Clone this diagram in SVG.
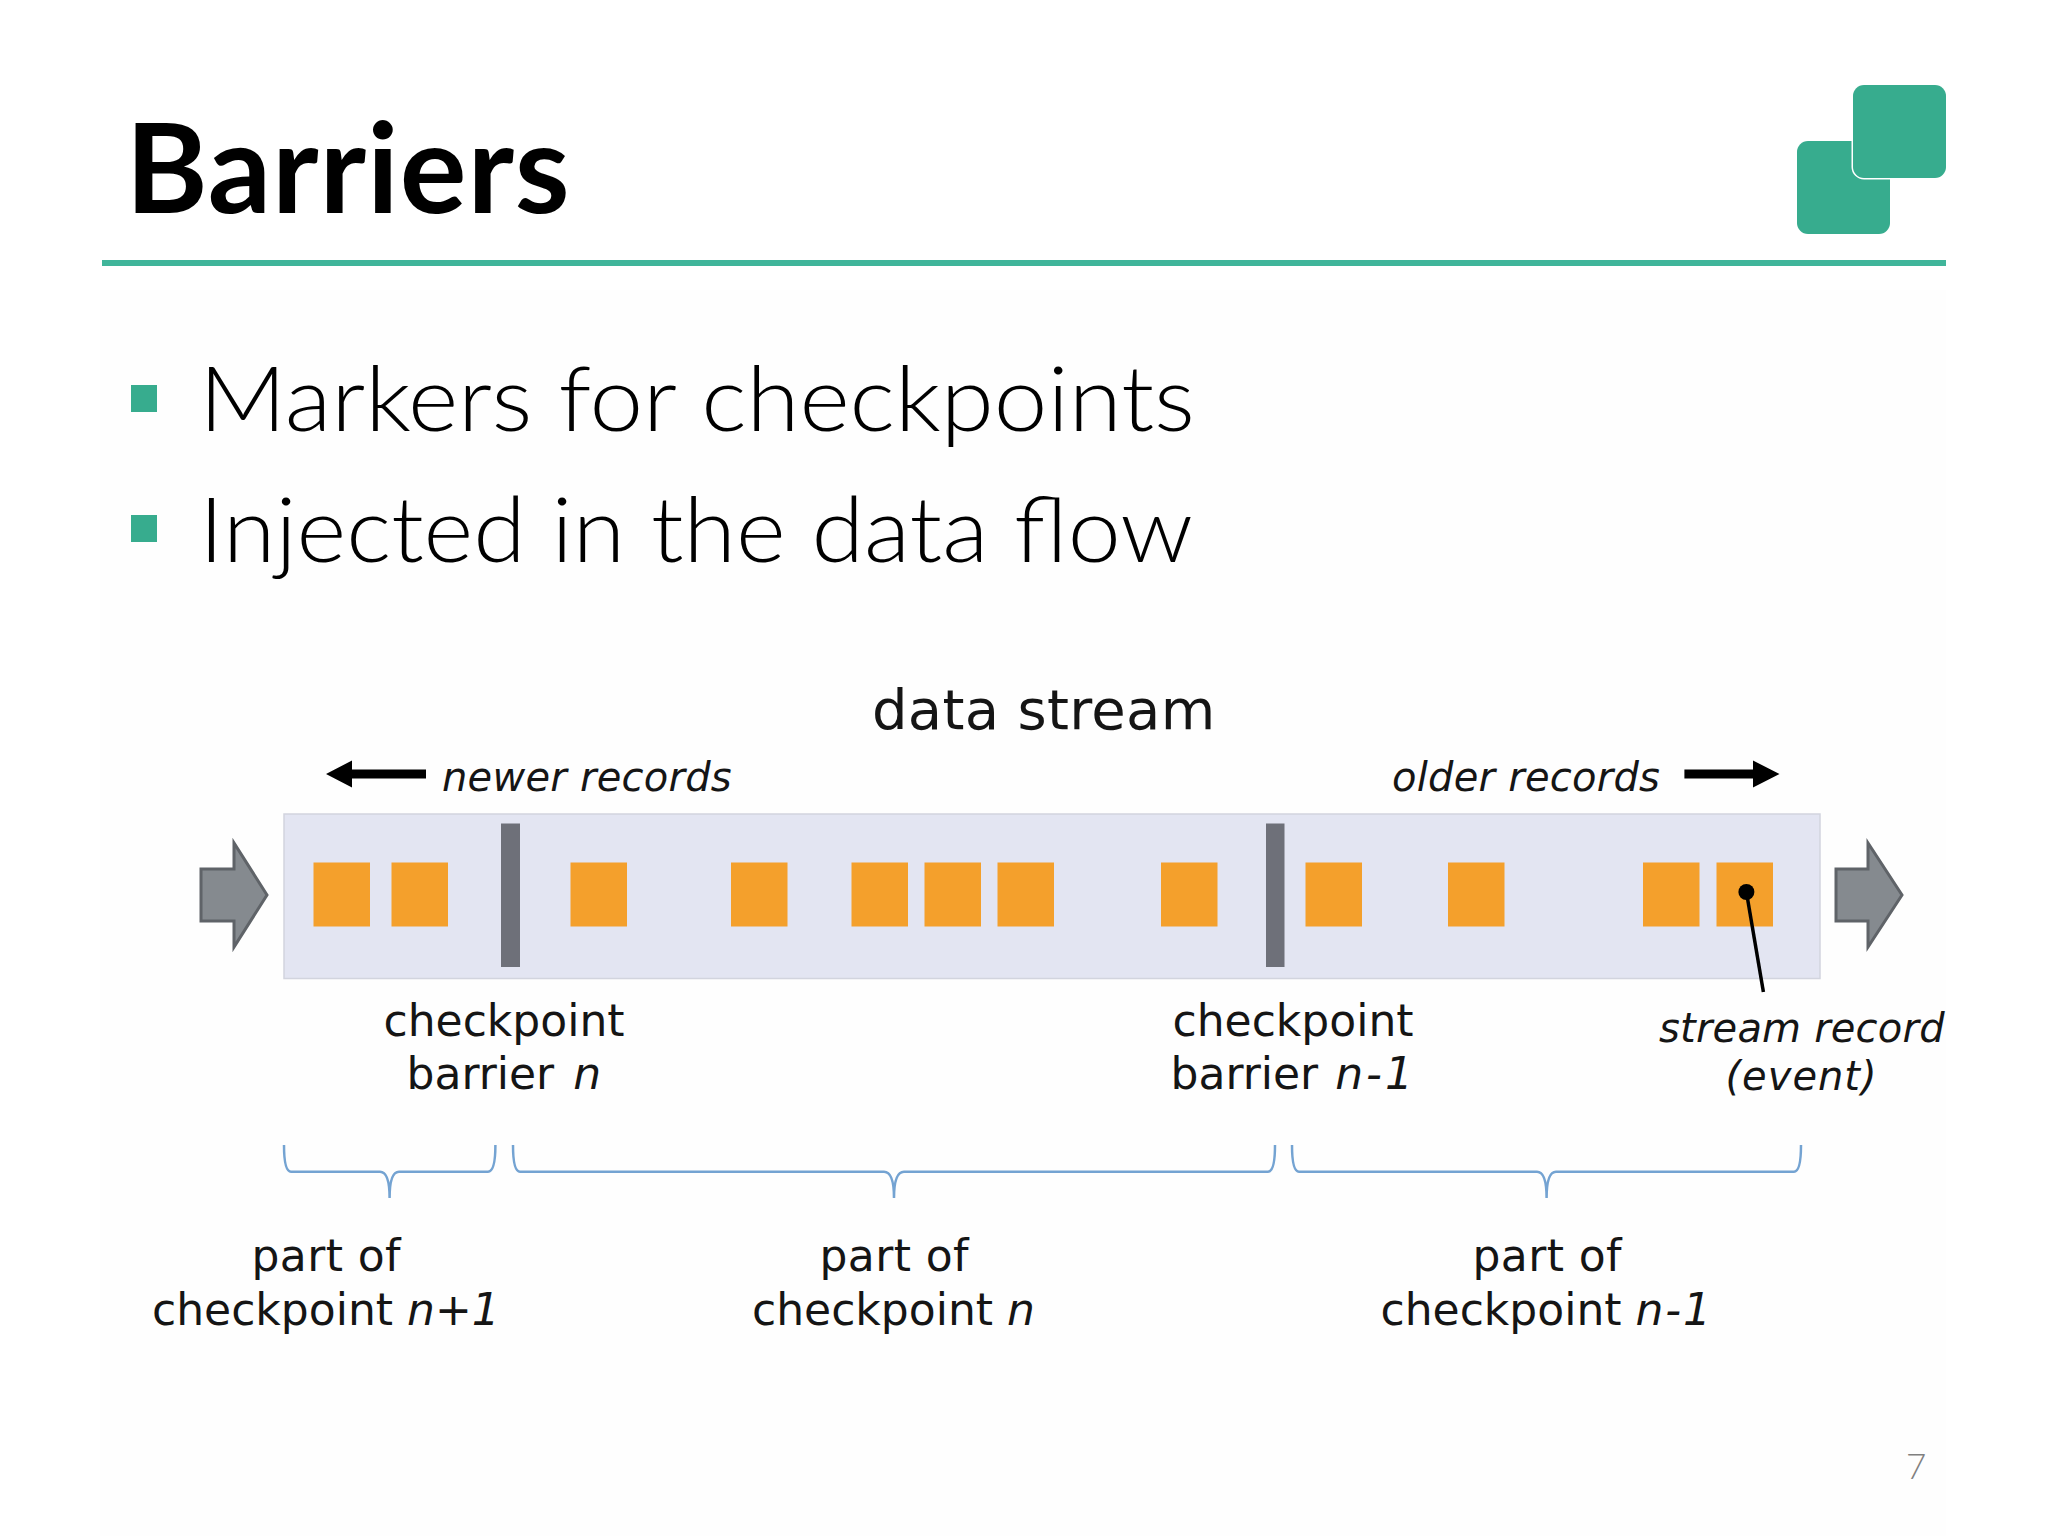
<svg xmlns="http://www.w3.org/2000/svg" width="2048" height="1536" viewBox="0 0 2048 1536">
<style>
.t{font-family:"DejaVu Sans",sans-serif;fill:#151515}
.b{font-size:44px}
.i{font-style:italic}
.s{font-size:40px;font-style:italic}
.rec{fill:#f4a02c}
.bar{fill:#6e7079}
.big{fill:#858a8f;stroke:#5f6368;stroke-width:3}
.brace{fill:none;stroke:#74a3d2;stroke-width:2.500}
.head{font-family:Lato,"Liberation Sans",sans-serif}
.teal{fill:#37ac8e}
</style>
<rect width="2048" height="1536" fill="#fff"/>
<rect x="100" y="290" width="1846" height="1246" fill="#fefefe"/>
<g id="title"><text class="head" x="125.500" y="213" font-size="125" font-weight="700" fill="#000" letter-spacing="0.900">Barriers</text></g>
<rect x="102" y="260" width="1844" height="6" fill="#40b59a"/>
<g id="logo">
<rect class="teal" x="1797" y="141" width="93" height="93" rx="11"/>
<rect class="teal" x="1853" y="85" width="93" height="93" rx="11" stroke="#fff" stroke-width="3" paint-order="stroke"/>
</g>
<g id="bullets">
<rect class="teal" x="131" y="385" width="26" height="27"/>
<text class="head" x="199" y="431" font-size="90" font-weight="300" fill="#000" textLength="996" lengthAdjust="spacingAndGlyphs">Markers for checkpoints</text>
<rect class="teal" x="131" y="515" width="26" height="27"/>
<text class="head" x="199" y="562" font-size="90" font-weight="300" fill="#000" textLength="994" lengthAdjust="spacingAndGlyphs">Injected in the data flow</text>
</g>
<text class="t" x="872" y="729" font-size="56" letter-spacing="0.300">data stream</text>
<g id="newer"><path d="M426 769.500H352V760.500L326 774L352 787.500V778.500H426Z" fill="#000"/><text class="t s" x="442" y="791" letter-spacing="0.250">newer records</text></g>
<g id="older"><path d="M1684.400 769.500H1753V760.500L1779.500 774L1753 787.500V778.500H1684.400Z" fill="#000"/><text class="t s" x="1392" y="791" letter-spacing="0.250">older records</text></g>
<g id="stream-band"><rect x="284" y="814" width="1536" height="164.500" fill="#e3e5f2" stroke="#d2d4de" stroke-width="1.500"/></g>
<g id="in-arrow"><path class="big" d="M201 869H234V843L267 895L234 947V921H201Z"/></g>
<g id="out-arrow"><path class="big" d="M1836 869H1868V843L1902 895L1868 947V921H1836Z"/></g>
<g id="records">
<rect class="rec" x="313.500" y="862.500" width="56.500" height="64"/>
<rect class="rec" x="391.500" y="862.500" width="56.500" height="64"/>
<rect class="rec" x="570.500" y="862.500" width="56.500" height="64"/>
<rect class="rec" x="731" y="862.500" width="56.500" height="64"/>
<rect class="rec" x="851.500" y="862.500" width="56.500" height="64"/>
<rect class="rec" x="924.500" y="862.500" width="56.500" height="64"/>
<rect class="rec" x="997.500" y="862.500" width="56.500" height="64"/>
<rect class="rec" x="1161" y="862.500" width="56.500" height="64"/>
<rect class="rec" x="1305.500" y="862.500" width="56.500" height="64"/>
<rect class="rec" x="1448" y="862.500" width="56.500" height="64"/>
<rect class="rec" x="1643" y="862.500" width="56.500" height="64"/>
<rect class="rec" x="1716.500" y="862.500" width="56.500" height="64"/>
</g>
<g id="barrier-n"><rect class="bar" x="501" y="823.500" width="19" height="143.500"/><text class="t b" x="383.500" y="1035.500">checkpoint</text><text class="t b" x="406.500" y="1089">barrier <tspan class="i" dx="5">n</tspan></text></g>
<g id="barrier-n-1"><rect class="bar" x="1266" y="823.500" width="18.500" height="143.500"/><text class="t b" x="1172.500" y="1035.500">checkpoint</text><text class="t b" x="1170.500" y="1089">barrier <tspan class="i" dx="3" letter-spacing="3">n-1</tspan></text></g>
<g id="connectors">
<circle cx="1746.400" cy="892" r="8"/>
<path d="M1746.400 892L1763.400 992" stroke="#000" stroke-width="3.500" fill="none"/>
<path class="brace" d="M284 1145Q284 1171.700 291 1171.700H380Q389.600 1171.700 389.600 1198Q389.600 1171.700 399 1171.700H488Q495.400 1171.700 495.400 1145"/>
<path class="brace" d="M513 1145Q513 1171.700 520 1171.700H884Q894 1171.700 894 1198Q894 1171.700 904 1171.700H1268Q1275 1171.700 1275 1145"/>
<path class="brace" d="M1292 1145Q1292 1171.700 1299 1171.700H1537Q1546.600 1171.700 1546.600 1198Q1546.600 1171.700 1556 1171.700H1794Q1801 1171.700 1801 1145"/>
</g>
<g id="stream-record"><text class="t s" x="1659" y="1042" letter-spacing="0.200">stream record</text><text class="t s" x="1725.500" y="1090" letter-spacing="1">(event)</text></g>
<g id="part-n1"><text class="t b" x="251.500" y="1271" letter-spacing="0.400">part of</text><text class="t b" x="152" y="1325">checkpoint <tspan class="i">n+1</tspan></text></g>
<g id="part-n"><text class="t b" x="819.500" y="1271" letter-spacing="0.400">part of</text><text class="t b" x="752" y="1325">checkpoint <tspan class="i">n</tspan></text></g>
<g id="part-n-1"><text class="t b" x="1472.500" y="1271" letter-spacing="0.400">part of</text><text class="t b" x="1380.500" y="1325">checkpoint <tspan class="i" letter-spacing="1.800">n-1</tspan></text></g>
<text class="head" x="1906" y="1479" font-size="35" font-weight="300" fill="#808080">7</text>
</svg>
